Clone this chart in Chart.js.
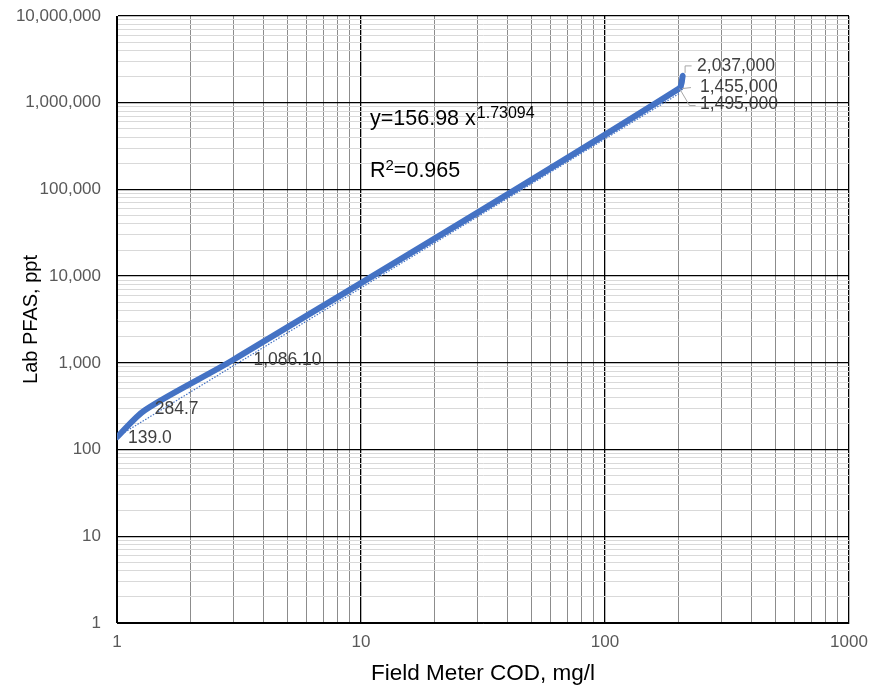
<!DOCTYPE html>
<html>
<head>
<meta charset="utf-8">
<script src="https://cdn.jsdelivr.net/npm/chart.js@4/dist/chart.umd.min.js"></script>
<style>
html,body{margin:0;padding:0;background:#fff;}
#wrap{width:877px;height:688px;}
</style>
</head>
<body>
<div id="wrap"><canvas id="c" width="877" height="688"></canvas></div>
<script>
// ---- data ----
const codValues  = [1, 1.3, 3.0, 201, 208, 204];                      // Field Meter COD, mg/l
const pfasValues = [139.0, 284.7, 1086.1, 1455000, 2037000, 1495000]; // Lab PFAS, ppt
const pointLabels = ['139.0', '284.7', '1,086.10', '1,455,000', '2,037,000', '1,495,000'];
// dotted power trendline, endpoints
const trendX = [1, 201];
const trendY = [140, 1270000];
const equationText = 'y=156.98 x';
const equationExp = '1.73094';
const r2Text = '=0.965';
const xTickLabels = ['1', '10', '100', '1000'];
const yTickLabels = ['1', '10', '100', '1,000', '10,000', '100,000', '1,000,000', '10,000,000'];
const xTitle = 'Field Meter COD, mg/l';
const yTitle = 'Lab PFAS, ppt';

const FONT = '"Liberation Sans", Arial, sans-serif';
const BLUE = '#4472C4';

function decadeTicks(labels){
  const vals = [];
  for (let i = 0; i < labels.length; i++){
    const base = Math.pow(10, i);
    vals.push(base);
    if (i < labels.length - 1){ for (let m = 2; m <= 9; m++) vals.push(m * base); }
  }
  return vals;
}
const xGridVals = decadeTicks(xTickLabels);
const yGridVals = decadeTicks(yTickLabels);
function isDecade(v){ const l = Math.log10(v); return Math.abs(l - Math.round(l)) < 1e-9; }
function labelFor(v, labels){ return isDecade(v) ? labels[Math.round(Math.log10(v))] : ''; }

const mainData = codValues.map((x, i) => ({x, y: pfasValues[i]}));
const trendData = trendX.map((x, i) => ({x, y: trendY[i]}));

// label offsets relative to the point (layout only)
const labelOffsets = [[11, 1], [10, -1], [20, 0], [21, -1], [14.5, -10], [19.5, 17]];
const leaders = {
  3: [[3, 0], [12, -1]],
  4: [[2.5, -3], [2.5, -10], [9, -10]],
  5: [[-1, 1], [9, 18], [15, 18]]
};

const overlay = {
  id: 'overlay',
  afterDatasetsDraw(chart){
    const ctx = chart.ctx, xs = chart.scales.x, ys = chart.scales.y;
    ctx.save();
    // data labels
    ctx.font = '17.5px ' + FONT;
    ctx.fillStyle = '#404040';
    ctx.textBaseline = 'middle';
    ctx.textAlign = 'left';
    codValues.forEach((xv, i) => {
      const px = xs.getPixelForValue(xv), py = ys.getPixelForValue(pfasValues[i]);
      const off = labelOffsets[i];
      ctx.fillText(pointLabels[i], px + off[0], py + off[1]);
      if (leaders[i]){
        ctx.strokeStyle = '#a6a6a6'; ctx.lineWidth = 1;
        ctx.beginPath();
        leaders[i].forEach((p, k) => { k ? ctx.lineTo(px + p[0], py + p[1]) : ctx.moveTo(px + p[0], py + p[1]); });
        ctx.stroke();
      }
    });
    // equation
    ctx.fillStyle = '#000';
    ctx.textBaseline = 'alphabetic';
    ctx.font = '21.5px ' + FONT;
    ctx.fillText(equationText, 370, 125);
    let w = ctx.measureText(equationText).width;
    ctx.font = '16px ' + FONT;
    ctx.fillText(equationExp, 370 + w + 1, 118);
    ctx.font = '21.5px ' + FONT;
    ctx.fillText('R', 370, 177);
    w = ctx.measureText('R').width;
    ctx.font = '15px ' + FONT;
    ctx.fillText('2', 370 + w, 170);
    const w2 = ctx.measureText('2').width;
    ctx.font = '21.5px ' + FONT;
    ctx.fillText(r2Text, 370 + w + w2, 177);
    // axis titles
    const ca = chart.chartArea;
    ctx.fillStyle = '#000';
    ctx.font = '22.5px ' + FONT;
    ctx.textAlign = 'center';
    ctx.textBaseline = 'alphabetic';
    ctx.fillText(xTitle, (ca.left + ca.right) / 2, 680);
    ctx.font = '20px ' + FONT;
    ctx.textBaseline = 'middle';
    ctx.translate(31, (ca.top + ca.bottom) / 2);
    ctx.rotate(-Math.PI / 2);
    ctx.fillText(yTitle, 0, 0);
    ctx.restore();
  }
};

new Chart(document.getElementById('c'), {
  type: 'line',
  data: {
    datasets: [
      {
        data: mainData, borderColor: BLUE, backgroundColor: BLUE,
        borderWidth: 6, pointRadius: 0, tension: 0.3, fill: false,
        borderCapStyle: 'round', borderJoinStyle: 'round'
      },
      {
        data: trendData, borderColor: BLUE, borderWidth: 1.2,
        borderDash: [1.5, 1.5], pointRadius: 0, tension: 0, fill: false
      }
    ]
  },
  options: {
    responsive: false,
    animation: false,
    layout: {padding: {left: 0, top: 16, right: 28, bottom: 0}},
    plugins: {legend: {display: false}, tooltip: {enabled: false}},
    scales: {
      x: {
        type: 'logarithmic', min: 1, max: 1000,
        afterBuildTicks: s => { s.ticks = xGridVals.map(v => ({value: v})); },
        afterFit: s => { s.height = 65; s.paddingLeft = 0; s.paddingRight = 0; },
        border: {color: '#000', width: 1},
        grid: {
          drawTicks: false,
          color: c => isDecade(c.tick.value) ? '#000' : '#8c8c8c',
          lineWidth: c => isDecade(c.tick.value) ? 1.3 : 1
        },
        ticks: {
          autoSkip: false, maxRotation: 0, padding: 9,
          color: '#595959', font: {family: FONT, size: 17},
          callback: v => labelFor(v, xTickLabels)
        }
      },
      y: {
        type: 'logarithmic', min: 1, max: 10000000,
        afterBuildTicks: s => { s.ticks = yGridVals.map(v => ({value: v})); },
        afterFit: s => { s.width = 117; s.paddingTop = 0; s.paddingBottom = 0; },
        border: {color: '#000', width: 1},
        grid: {
          drawTicks: false,
          color: c => isDecade(c.tick.value) ? '#000' : '#d9d9d9',
          lineWidth: c => isDecade(c.tick.value) ? 1.3 : 1
        },
        ticks: {
          autoSkip: false, padding: 16,
          color: '#595959', font: {family: FONT, size: 17},
          callback: v => labelFor(v, yTickLabels)
        }
      }
    }
  },
  plugins: [overlay]
});
</script>
</body>
</html>
